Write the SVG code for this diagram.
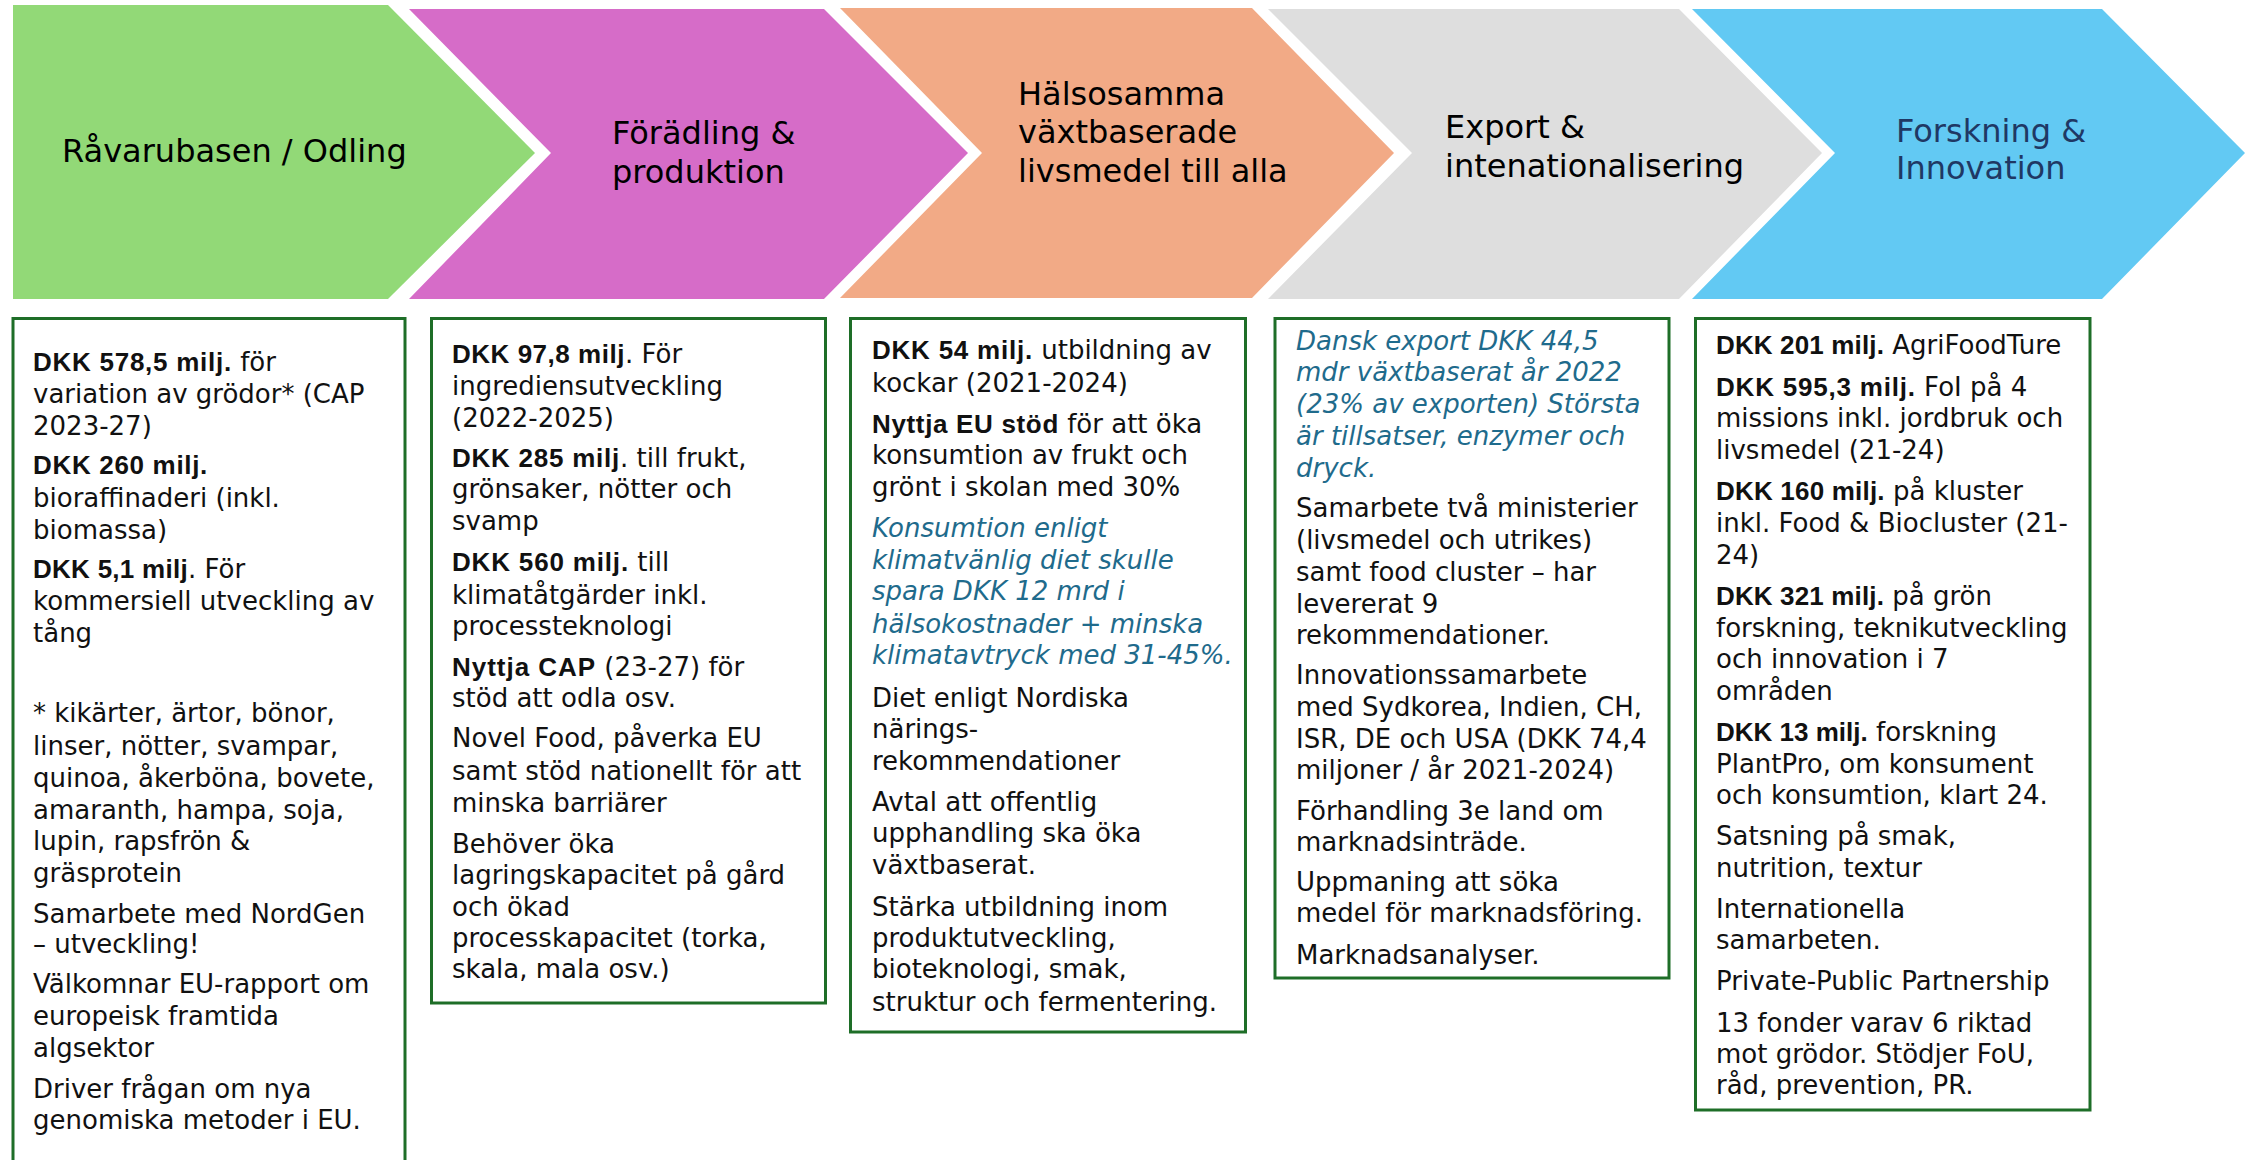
<svg xmlns="http://www.w3.org/2000/svg" width="2252" height="1160" viewBox="0 0 2252 1160">
<style>
.h{font-family:"DejaVu Sans",sans-serif;font-size:32px;fill:#000}
.t{font-family:"DejaVu Sans",sans-serif;font-size:26px;fill:#111}
.b{font-family:"Liberation Sans",Arial,sans-serif;font-weight:bold}
.i{font-style:italic;fill:#1F6B8C}
.box{fill:#fff;stroke:#1E6E28;stroke-width:3}
</style>
<rect width="2252" height="1160" fill="#fff"/>
<g id="chevron-ravarubasen">
<polygon points="13,5 388,5 535,153 388,299 13,299" fill="#92D977"/>
<text class="h" x="62" y="162">Råvarubasen / Odling</text>
</g>
<g id="chevron-foradling">
<polygon points="409,9 824,9 968,153 824,299 409,299 551,153" fill="#D66CC8"/>
<text class="h"><tspan x="612" y="144">Förädling &amp;</tspan><tspan x="612" y="183">produktion</tspan></text>
</g>
<g id="chevron-halsosamma">
<polygon points="840,8 1252,8 1394,153 1252,298 840,298 982,153" fill="#F2AA86"/>
<text class="h"><tspan x="1018" y="105">Hälsosamma</tspan><tspan x="1018" y="143">växtbaserade</tspan><tspan x="1018" y="182">livsmedel till alla</tspan></text>
</g>
<g id="chevron-export">
<polygon points="1268,9 1679,9 1822,153 1679,299 1268,299 1412,153" fill="#DEDEDE"/>
<text class="h"><tspan x="1445" y="138">Export &amp;</tspan><tspan x="1445" y="177">intenationalisering</tspan></text>
</g>
<g id="chevron-forskning">
<polygon points="1692,9 2102,9 2245,153 2102,299 1692,299 1835,153" fill="#62C9F3"/>
<text class="h" style="fill:#1F3864"><tspan x="1896" y="142">Forskning &amp;</tspan><tspan x="1896" y="179">Innovation</tspan></text>
</g>
<g id="box-ravarubasen">
<rect class="box" x="13" y="318.5" width="392" height="900"/>
<text class="t">
<tspan x="33" y="371"><tspan class="b" letter-spacing="0.74">DKK 578,5 milj.</tspan><tspan letter-spacing="0"> för</tspan></tspan>
<tspan x="33" y="403">variation av grödor* (CAP</tspan>
<tspan x="33" y="435">2023-27)</tspan>
<tspan x="33" y="474" class="b" letter-spacing="0.68">DKK 260 milj.</tspan>
<tspan x="33" y="507">bioraffinaderi (inkl.</tspan>
<tspan x="33" y="539">biomassa)</tspan>
<tspan x="33" y="578"><tspan class="b" letter-spacing="0.27">DKK 5,1 milj</tspan><tspan letter-spacing="0">. För</tspan></tspan>
<tspan x="33" y="610">kommersiell utveckling av</tspan>
<tspan x="33" y="642">tång</tspan>
<tspan x="33" y="722">* kikärter, ärtor, bönor,</tspan>
<tspan x="33" y="755">linser, nötter, svampar,</tspan>
<tspan x="33" y="787">quinoa, åkerböna, bovete,</tspan>
<tspan x="33" y="819">amaranth, hampa, soja,</tspan>
<tspan x="33" y="850">lupin, rapsfrön &amp;</tspan>
<tspan x="33" y="882">gräsprotein</tspan>
<tspan x="33" y="923">Samarbete med NordGen</tspan>
<tspan x="33" y="953">– utveckling!</tspan>
<tspan x="33" y="993">Välkomnar EU-rapport om</tspan>
<tspan x="33" y="1025">europeisk framtida</tspan>
<tspan x="33" y="1057">algsektor</tspan>
<tspan x="33" y="1098">Driver frågan om nya</tspan>
<tspan x="33" y="1129">genomiska metoder i EU.</tspan>
</text>
</g>
<g id="box-foradling">
<rect class="box" x="431.5" y="318.5" width="394" height="684.5"/>
<text class="t">
<tspan x="452" y="363"><tspan class="b" letter-spacing="0.52">DKK 97,8 milj</tspan><tspan letter-spacing="0">. För</tspan></tspan>
<tspan x="452" y="395">ingrediensutveckling</tspan>
<tspan x="452" y="427">(2022-2025)</tspan>
<tspan x="452" y="467"><tspan class="b" letter-spacing="0.76">DKK 285 milj</tspan><tspan letter-spacing="0">. till frukt,</tspan></tspan>
<tspan x="452" y="498">grönsaker, nötter och</tspan>
<tspan x="452" y="530">svamp</tspan>
<tspan x="452" y="571"><tspan class="b" letter-spacing="0.83">DKK 560 milj.</tspan><tspan letter-spacing="0"> till</tspan></tspan>
<tspan x="452" y="604">klimatåtgärder inkl.</tspan>
<tspan x="452" y="635">processteknologi</tspan>
<tspan x="452" y="676"><tspan class="b" letter-spacing="0.97">Nyttja CAP</tspan><tspan letter-spacing="0"> (23-27) för</tspan></tspan>
<tspan x="452" y="707">stöd att odla osv.</tspan>
<tspan x="452" y="747">Novel Food, påverka EU</tspan>
<tspan x="452" y="780">samt stöd nationellt för att</tspan>
<tspan x="452" y="812">minska barriärer</tspan>
<tspan x="452" y="853">Behöver öka</tspan>
<tspan x="452" y="884">lagringskapacitet på gård</tspan>
<tspan x="452" y="916">och ökad</tspan>
<tspan x="452" y="947">processkapacitet (torka,</tspan>
<tspan x="452" y="978">skala, mala osv.)</tspan>
</text>
</g>
<g id="box-halsosamma">
<rect class="box" x="850.5" y="318.5" width="395" height="713.5"/>
<text class="t">
<tspan x="872" y="359"><tspan class="b" letter-spacing="0.77">DKK 54 milj.</tspan><tspan letter-spacing="0"> utbildning av</tspan></tspan>
<tspan x="872" y="392">kockar (2021-2024)</tspan>
<tspan x="872" y="433"><tspan class="b" letter-spacing="0.66">Nyttja EU stöd</tspan><tspan letter-spacing="0"> för att öka</tspan></tspan>
<tspan x="872" y="464">konsumtion av frukt och</tspan>
<tspan x="872" y="496">grönt i skolan med 30%</tspan>
<tspan class="i" x="872" y="537">Konsumtion enligt</tspan>
<tspan class="i" x="872" y="569">klimatvänlig diet skulle</tspan>
<tspan class="i" x="872" y="600">spara DKK 12 mrd i</tspan>
<tspan class="i" x="872" y="633">hälsokostnader + minska</tspan>
<tspan class="i" x="872" y="664">klimatavtryck med 31-45%.</tspan>
<tspan x="872" y="707">Diet enligt Nordiska</tspan>
<tspan x="872" y="738">närings-</tspan>
<tspan x="872" y="770">rekommendationer</tspan>
<tspan x="872" y="811">Avtal att offentlig</tspan>
<tspan x="872" y="842">upphandling ska öka</tspan>
<tspan x="872" y="874">växtbaserat.</tspan>
<tspan x="872" y="916">Stärka utbildning inom</tspan>
<tspan x="872" y="947">produktutveckling,</tspan>
<tspan x="872" y="978">bioteknologi, smak,</tspan>
<tspan x="872" y="1011">struktur och fermentering.</tspan>
</text>
</g>
<g id="box-export">
<rect class="box" x="1275" y="318.5" width="394" height="659.5"/>
<text class="t">
<tspan class="i" x="1296" y="350">Dansk export DKK 44,5</tspan>
<tspan class="i" x="1296" y="381">mdr växtbaserat år 2022</tspan>
<tspan class="i" x="1296" y="413">(23% av exporten) Största</tspan>
<tspan class="i" x="1296" y="445">är tillsatser, enzymer och</tspan>
<tspan class="i" x="1296" y="477">dryck.</tspan>
<tspan x="1296" y="517">Samarbete två ministerier</tspan>
<tspan x="1296" y="549">(livsmedel och utrikes)</tspan>
<tspan x="1296" y="581">samt food cluster – har</tspan>
<tspan x="1296" y="613">levererat 9</tspan>
<tspan x="1296" y="644">rekommendationer.</tspan>
<tspan x="1296" y="684">Innovationssamarbete</tspan>
<tspan x="1296" y="716">med Sydkorea, Indien, CH,</tspan>
<tspan x="1296" y="748">ISR, DE och USA (DKK 74,4</tspan>
<tspan x="1296" y="779">miljoner / år 2021-2024)</tspan>
<tspan x="1296" y="820">Förhandling 3e land om</tspan>
<tspan x="1296" y="851">marknadsinträde.</tspan>
<tspan x="1296" y="891">Uppmaning att söka</tspan>
<tspan x="1296" y="922">medel för marknadsföring.</tspan>
<tspan x="1296" y="964">Marknadsanalyser.</tspan>
</text>
</g>
<g id="box-forskning">
<rect class="box" x="1695.5" y="318.5" width="394.5" height="791.5"/>
<text class="t">
<tspan x="1716" y="354"><tspan class="b" letter-spacing="0.14">DKK 201 milj.</tspan><tspan letter-spacing="0"> AgriFoodTure</tspan></tspan>
<tspan x="1716" y="396"><tspan class="b" letter-spacing="0.8">DKK 595,3 milj.</tspan><tspan letter-spacing="0"> FoI på 4</tspan></tspan>
<tspan x="1716" y="427">missions inkl. jordbruk och</tspan>
<tspan x="1716" y="459">livsmedel (21-24)</tspan>
<tspan x="1716" y="500"><tspan class="b" letter-spacing="0.2">DKK 160 milj.</tspan><tspan letter-spacing="0"> på kluster</tspan></tspan>
<tspan x="1716" y="532">inkl. Food &amp; Biocluster (21-</tspan>
<tspan x="1716" y="564">24)</tspan>
<tspan x="1716" y="605"><tspan class="b" letter-spacing="0.14">DKK 321 milj.</tspan><tspan letter-spacing="0"> på grön</tspan></tspan>
<tspan x="1716" y="637">forskning, teknikutveckling</tspan>
<tspan x="1716" y="668">och innovation i 7</tspan>
<tspan x="1716" y="700">områden</tspan>
<tspan x="1716" y="741"><tspan class="b">DKK 13 milj.</tspan> forskning</tspan>
<tspan x="1716" y="773">PlantPro, om konsument</tspan>
<tspan x="1716" y="804">och konsumtion, klart 24.</tspan>
<tspan x="1716" y="845">Satsning på smak,</tspan>
<tspan x="1716" y="877">nutrition, textur</tspan>
<tspan x="1716" y="918">Internationella</tspan>
<tspan x="1716" y="949">samarbeten.</tspan>
<tspan x="1716" y="990">Private-Public Partnership</tspan>
<tspan x="1716" y="1032">13 fonder varav 6 riktad</tspan>
<tspan x="1716" y="1063">mot grödor. Stödjer FoU,</tspan>
<tspan x="1716" y="1094">råd, prevention, PR.</tspan>
</text>
</g>
<g id="connectors"/>
</svg>
